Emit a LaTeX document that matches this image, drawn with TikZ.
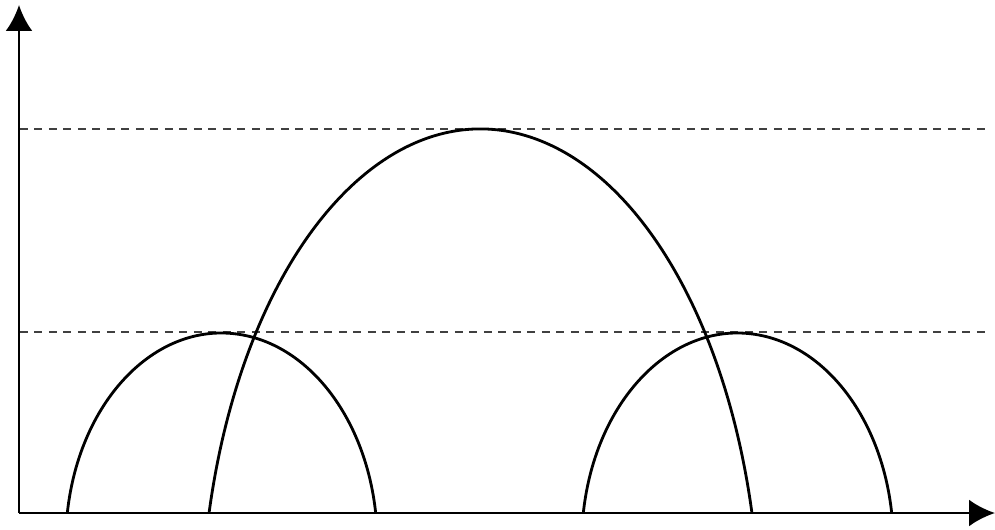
\documentclass[tikz,border=0pt]{standalone}
\usetikzlibrary{arrows.meta}
\begin{document}
\begin{tikzpicture}[x=0.02cm, y=0.02cm,
                    axis/.style={line width=1.7pt, -{Latex[length=5.2mm,width=5.4mm]}},
                    level/.style={dash pattern=on 0.16cm off 0.13cm, line width=0.6pt, black!75},
                    arch/.style={line width=1.6pt}]
                    \useasboundingbox (-19,-16) rectangle (976,513);
                    
                    % axes
                    \coordinate (O) at (0,0);
                    \coordinate (xend) at (976,0);
                    \coordinate (yend) at (0,508);
                    \draw[axis] (O) -- (xend);
                    \draw[axis] (O) -- (yend);
                    
                    % peak levels
                    \draw[level] (1,384) -- (971,384);
                    \draw[level] (1,181) -- (971,181);
                    
                    % the three arches: ellipse arcs, centres a bit below the axis
                    \coordinate (c1) at (202.5,-30);
                    \coordinate (c2) at (461.5,-120);
                    \coordinate (c3) at (718.5,-30);
                    \draw[arch] (c1) ++(171.79:155.8 and 210) arc[start angle=171.79, end angle=8.21, x radius=155.8, y radius=210];
                    \draw[arch] (c2) ++(166.23:279.5 and 504) arc[start angle=166.23, end angle=13.77, x radius=279.5, y radius=504];
                    \draw[arch] (c3) ++(171.79:155.8 and 210) arc[start angle=171.79, end angle=8.21, x radius=155.8, y radius=210];
                \end{tikzpicture}
\end{document}
